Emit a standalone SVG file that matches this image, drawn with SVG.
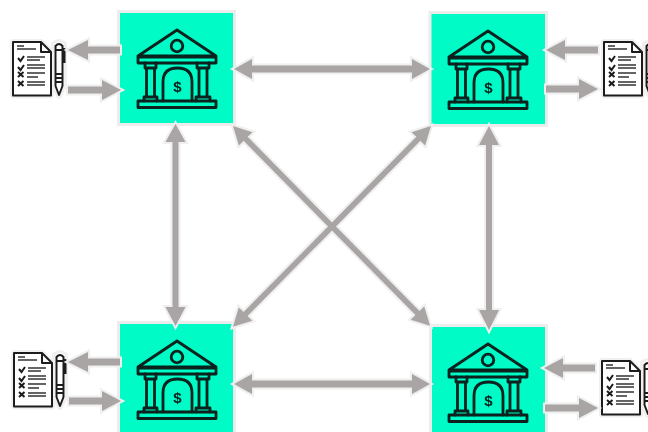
<svg xmlns="http://www.w3.org/2000/svg" width="648" height="432" viewBox="0 0 648 432">
<style>
.sq{fill:#00fbc6;stroke:#ececec;stroke-width:6;paint-order:stroke}
.ic{fill:none;stroke:#07201e;stroke-width:2.800;stroke-linejoin:round;stroke-linecap:round}
.dl{font:700 15px "Liberation Sans",Arial,sans-serif;fill:#07201e;text-anchor:middle}
.ar{fill:#a9a5a4;stroke:#efefef;stroke-width:4;paint-order:stroke;stroke-linejoin:miter}
.hl{fill:#efefef;stroke:#efefef;stroke-width:4}
.pg{fill:#fff;stroke:#f0f0f0;stroke-width:6;paint-order:stroke;stroke-linejoin:round}
.dc{fill:none;stroke:#1e1e1e;stroke-width:2;stroke-linejoin:round}
.th{fill:none;stroke:#333;stroke-width:1.600}
</style>
<defs>
<filter id="soft" filterUnits="userSpaceOnUse" x="0" y="0" width="648" height="432"><feGaussianBlur stdDeviation="0.4"/></filter>
<g id="bank">
<path class="ic" d="M57 17 L18 43 H96 Z"/>
<circle class="ic" cx="57" cy="33" r="5.800"/>
<rect class="ic" x="18" y="44" width="78" height="6"/>
<path class="ic" d="M25 50 V55 H36 V50 M26.500 55 V84 M34.500 55 V84 M77 50 V55 H89 V50 M79 55 V84 M87 55 V84 M24 88 V84 H37 V88 M76 88 V84 H90 V88"/>
<path class="ic" d="M43 88 V69 Q43 55 57.500 55 Q72 55 72 69 V88"/>
<rect class="ic" x="18" y="88" width="78" height="6.500"/>
<text class="dl" x="57.500" y="79">$</text>
</g>
<g id="doc">
<path class="pg" d="M1 1 H29 L39 11 V54.500 H1 Z"/>
<path class="pg" d="M42 3 Q47 -1 52 3 V45 L47 55 L42 45 Z"/>
<path class="dc" d="M1 1 H29 L39 11 V54.500 H1 Z M29 1 V11 H39"/>
<path class="th" d="M5 5 H12 M5 8 H24 M15 16 H33 M15 19 H28 M15 24 H33 M15 27 H33 M15 32 H33 M15 36 H26 M15 41 H33 M15 44 H33"/>
<path d="M6 17 L8.500 20 L12 15 M6 26 L8.500 29 L12 24 M6 31 L11.500 36 M11.500 31 L6 36 M6 40 L11.500 45 M11.500 40 L6 45" fill="none" stroke="#1a1a1a" stroke-width="2"/>
<path class="dc" d="M43.500 5 Q47 1 50.500 5 V45 L47 54 L43.500 45 Z M43.500 9 H50.500 M43.500 33 H50.500 M43.500 37 H50.500 M43.500 41 H50.500 M50.500 8 H52.500 V22"/>
</g>
<path id="d1" transform="translate(233 126) rotate(45.4)" d="M0 0 L18 -9.500 V-2.800 H262.700 V-9.500 L280.700 0 L262.700 9.500 V2.800 H18 V9.500 Z"/>
<path id="d2" transform="translate(431 126) rotate(134.6)" d="M0 0 L18 -9.500 V-2.800 H264.100 V-9.500 L282.100 0 L264.100 9.500 V2.800 H18 V9.500 Z"/>
</defs>
<rect width="648" height="432" fill="#fff"/>
<g filter="url(#soft)">
<g id="node-top-left"><rect class="sq" x="120" y="13" width="113" height="110"/><use href="#bank" x="120" y="13"/></g>
<g id="node-top-right"><rect class="sq" x="431.500" y="14" width="113.500" height="110"/><use href="#bank" x="431" y="14"/></g>
<g id="node-bottom-left"><rect class="sq" x="120" y="324" width="113" height="115"/><use href="#bank" x="120" y="324"/></g>
<g id="node-bottom-right"><rect class="sq" x="432" y="327" width="113" height="112"/><use href="#bank" x="431" y="327"/></g>
<g id="doc-top-left"><use href="#doc" x="12" y="41"/></g>
<g id="doc-top-right"><use href="#doc" x="603" y="41"/></g>
<g id="doc-bottom-left"><use href="#doc" x="13" y="352"/></g>
<g id="doc-bottom-right"><use href="#doc" x="601" y="360"/></g>
<g id="connectors">
<g class="hl"><use href="#d1"/><use href="#d2"/></g>
<g style="fill:#a9a5a4;stroke:none"><use href="#d1"/><use href="#d2"/></g>
<path class="ar" d="M234 69 L252 59 V65.500 H412 V59 L430 69 L412 79 V72.500 H252 V79 Z"/>
<path class="ar" d="M234 384 L252 374 V380.500 H412 V374 L430 384 L412 394 V387.500 H252 V394 Z"/>
<path class="ar" d="M175.500 124 L185.500 142 H178.500 V307 H185.500 L175.500 326 L165.500 307 H172.500 V142 H165.500 Z"/>
<path class="ar" d="M489 126 L499 145 H492 V310 H499 L489 330 L479 310 H486 V145 H479 Z"/>
<path class="ar" d="M68 50 L88 40 V46.500 H120 V53.500 H88 V60 Z"/>
<path class="ar" d="M121 90 L102 80 V86.500 H68 V93.500 H102 V100 Z"/>
<path class="ar" d="M546 50 L565 40 V46.500 H598 V53.500 H565 V60 Z"/>
<path class="ar" d="M598 89 L579 79 V85.500 H546 V92.500 H579 V99 Z"/>
<path class="ar" d="M68 362 L88 352 V358.500 H120 V365.500 H88 V372 Z"/>
<path class="ar" d="M121 401 L102 391 V397.500 H69 V404.500 H102 V411 Z"/>
<path class="ar" d="M544 368 L563 358 V364.500 H595 V371.500 H563 V378 Z"/>
<path class="ar" d="M598 408 L579 398 V404.500 H545 V411.500 H579 V418 Z"/>
</g>
</g>
</svg>
